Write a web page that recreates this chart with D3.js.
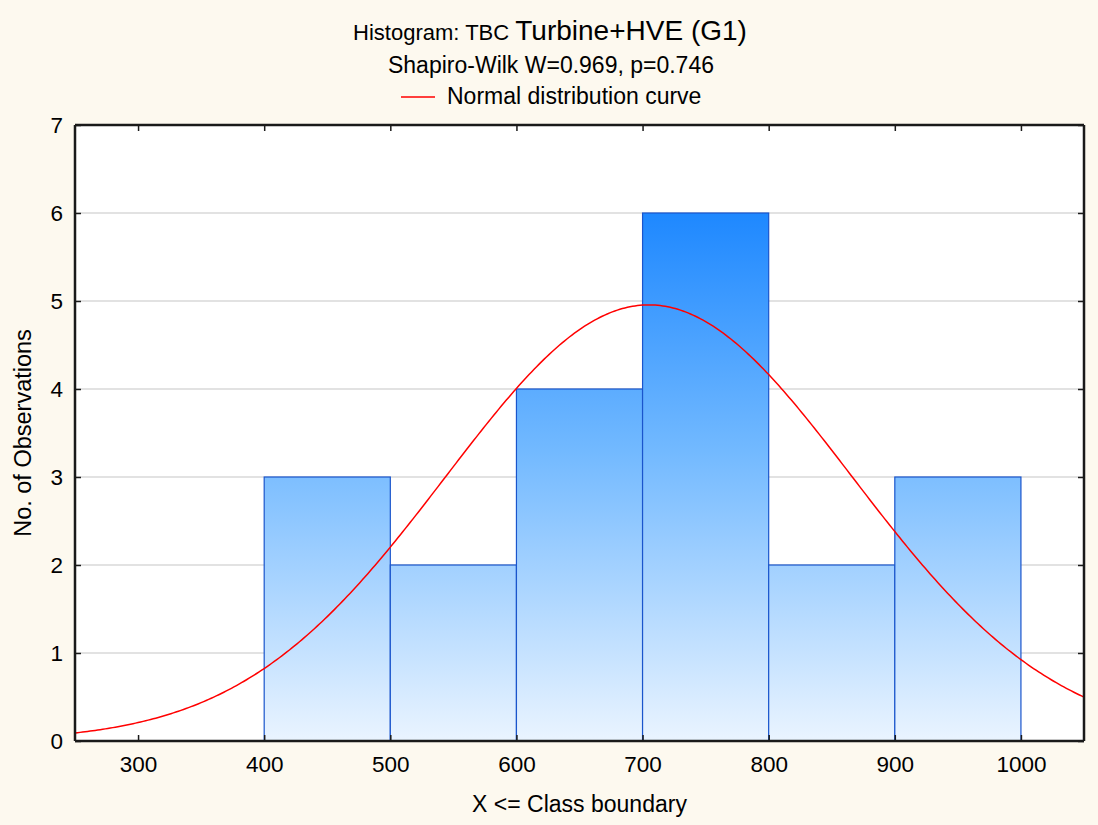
<!DOCTYPE html>
<html>
<head>
<meta charset="utf-8">
<script src="https://cdn.jsdelivr.net/npm/d3@7"></script>
<style>
    body { margin: 0; background: #fdf9ef; }
    svg text { font-family: "Liberation Sans", Arial, sans-serif; fill: #000; }
</style>
</head>
<body>
<div id="chart"></div>
<script>
// Histogram data: class boundaries and counts
const binStarts = [400, 500, 600, 700, 800, 900];
const binWidth = 100;
const counts = [3, 2, 4, 6, 2, 3];

// Normal curve parameters
const curveMean = 705;
const curveSd = 161;
const curveN = 20;

// Axis ticks
const xTicks = [300, 400, 500, 600, 700, 800, 900, 1000];
const yTicks = [0, 1, 2, 3, 4, 5, 6, 7];

const size = { width: 1098, height: 825 };
const plot = { left: 75, top: 125, right: 1084, bottom: 741 };

const svg = d3.select('#chart')
    .append('svg')
    .attr('width', size.width)
    .attr('height', size.height);

svg.append('rect')
    .attr('width', size.width)
    .attr('height', size.height)
    .attr('fill', '#fdf9ef');

const xScale = d3.scaleLinear().domain([250, 1050]).range([plot.left, plot.right]);
const yScale = d3.scaleLinear().domain([0, 7]).range([plot.bottom, plot.top]);

// plot background
svg.append('rect')
    .attr('x', plot.left)
    .attr('y', plot.top)
    .attr('width', plot.right - plot.left)
    .attr('height', plot.bottom - plot.top)
    .attr('fill', '#ffffff');

// gradient shared by all bars (depends on absolute height)
const defs = svg.append('defs');
const grad = defs.append('linearGradient')
    .attr('id', 'barGrad')
    .attr('gradientUnits', 'userSpaceOnUse')
    .attr('x1', 0).attr('x2', 0)
    .attr('y1', yScale(6)).attr('y2', yScale(0));
grad.append('stop').attr('offset', '0%').attr('stop-color', '#1e88ff');
grad.append('stop').attr('offset', '45%').attr('stop-color', '#72b9ff');
grad.append('stop').attr('offset', '100%').attr('stop-color', '#eaf4ff');

// grid lines
svg.append('g')
    .selectAll('line')
    .data(yTicks.filter(d => d > 0 && d < 7))
    .join('line')
    .attr('x1', plot.left)
    .attr('x2', plot.right)
    .attr('y1', d => yScale(d))
    .attr('y2', d => yScale(d))
    .style('stroke', '#d9d9d9')
    .style('stroke-width', 1.5);

// bars
svg.append('g')
    .selectAll('rect')
    .data(binStarts.map((s, i) => ({ start: s, count: counts[i] })))
    .join('rect')
    .attr('x', d => xScale(d.start))
    .attr('y', d => yScale(d.count))
    .attr('width', d => xScale(d.start + binWidth) - xScale(d.start))
    .attr('height', d => yScale(0) - yScale(d.count))
    .attr('fill', 'url(#barGrad)')
    .style('stroke', '#1a55cc')
    .style('stroke-width', 1.2);

// normal distribution curve
const curveX = d3.range(250, 1050.1, 2);
const normal = x => curveN * binWidth / (curveSd * Math.sqrt(2 * Math.PI)) *
    Math.exp(-0.5 * Math.pow((x - curveMean) / curveSd, 2));
svg.append('path')
    .datum(curveX)
    .attr('d', d3.line().x(d => xScale(d)).y(d => yScale(normal(d))))
    .attr('fill', 'none')
    .style('stroke', '#ff0000')
    .style('stroke-width', 1.5);

// axes (ticks inside, on all sides)
const axisColor = '#1a1a1a';
const fmt = d3.format('d');
const xBottom = svg.append('g')
    .attr('transform', 'translate(0,' + plot.bottom + ')')
    .call(d3.axisBottom(xScale).tickValues(xTicks).tickSize(-6).tickPadding(15).tickFormat(fmt));
const xTop = svg.append('g')
    .attr('transform', 'translate(0,' + plot.top + ')')
    .call(d3.axisTop(xScale).tickValues(xTicks).tickSize(-6).tickFormat(''));
const yLeft = svg.append('g')
    .attr('transform', 'translate(' + plot.left + ',0)')
    .call(d3.axisLeft(yScale).tickValues(yTicks).tickSize(-6).tickPadding(12).tickFormat(fmt));
const yRight = svg.append('g')
    .attr('transform', 'translate(' + plot.right + ',0)')
    .call(d3.axisRight(yScale).tickValues(yTicks).tickSize(-6).tickFormat(''));

[xBottom, xTop, yLeft, yRight].forEach(g => {
    g.select('.domain').style('stroke', axisColor).style('stroke-width', 2.5);
    g.selectAll('.tick line').style('stroke', axisColor).style('stroke-width', 1.5);
    g.selectAll('.tick text')
        .style('font-family', '"Liberation Sans", Arial, sans-serif')
        .style('font-size', '22.5px')
        .style('fill', '#000');
});
xBottom.select('.domain').attr('d', 'M' + plot.left + ',0H' + plot.right);
xTop.select('.domain').attr('d', 'M' + plot.left + ',0H' + plot.right);
yLeft.select('.domain').attr('d', 'M0,' + plot.top + 'V' + plot.bottom);
yRight.select('.domain').attr('d', 'M0,' + plot.top + 'V' + plot.bottom);

// titles
const title = svg.append('text')
    .attr('x', 550)
    .attr('y', 40)
    .attr('text-anchor', 'middle');
title.append('tspan').style('font-size', '22px').text('Histogram: TBC ');
title.append('tspan').style('font-size', '28px').text('Turbine+HVE (G1)');

svg.append('text')
    .attr('x', 551)
    .attr('y', 73)
    .attr('text-anchor', 'middle')
    .style('font-size', '23px')
    .text('Shapiro-Wilk W=0.969, p=0.746');

// legend
svg.append('line')
    .attr('x1', 401).attr('x2', 435)
    .attr('y1', 97).attr('y2', 97)
    .style('stroke', '#ff0000')
    .style('stroke-width', 1.5);
svg.append('text')
    .attr('x', 447)
    .attr('y', 104)
    .style('font-size', '23px')
    .text('Normal distribution curve');

// axis titles
svg.append('text')
    .attr('x', (plot.left + plot.right) / 2)
    .attr('y', 812)
    .attr('text-anchor', 'middle')
    .style('font-size', '23px')
    .text('X <= Class boundary');

svg.append('text')
    .attr('transform', 'translate(31,' + ((plot.top + plot.bottom) / 2) + ') rotate(-90)')
    .attr('text-anchor', 'middle')
    .style('font-size', '23.5px')
    .text('No. of Observations');
</script>
</body>
</html>
